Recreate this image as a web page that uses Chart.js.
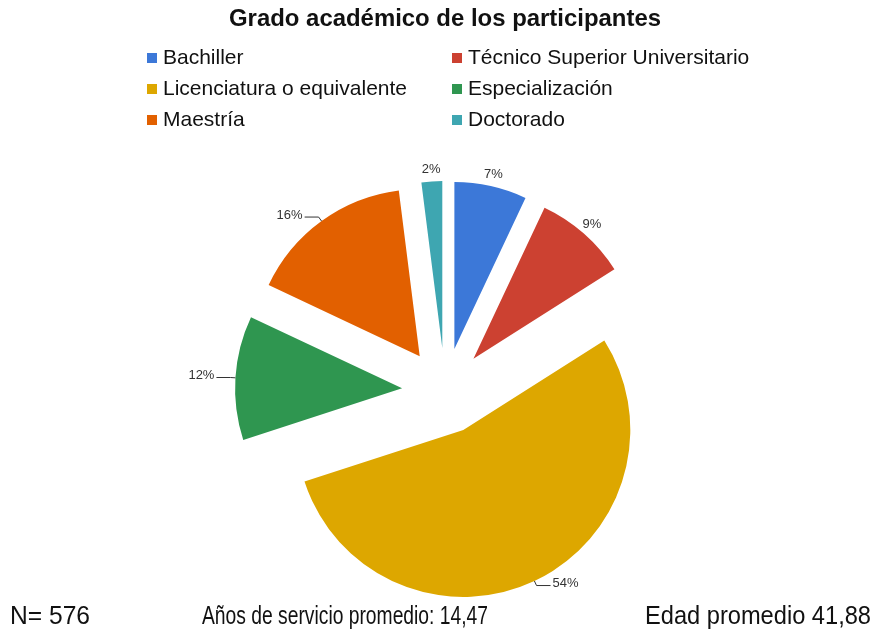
<!DOCTYPE html>
<html>
<head>
<meta charset="utf-8">
<script src="https://cdn.jsdelivr.net/npm/chart.js@4.4.1/dist/chart.umd.min.js"></script>
<style>
  html, body { margin: 0; padding: 0; background: #fff; }
</style>
</head>
<body>
<canvas id="pieGrado" width="878" height="631"></canvas>
<script>
const titulo = "Grado académico de los participantes";
const categorias = ["Bachiller", "Técnico Superior Universitario", "Licenciatura o equivalente",
                    "Especialización", "Maestría", "Doctorado"];
const porcentajes = [7, 9, 54, 12, 16, 2];
const colores = ["#3C78D8", "#CC4131", "#DDA700", "#2F9650", "#E26000", "#3EA6B1"];
const notasPie = ["N= 576", "Años de servicio promedio: 14,47", "Edad promedio 41,88"];

const SEPARACION = 43;
const FUENTE = "'Liberation Sans', Arial, sans-serif";

// separa cada porción del centro (pie "explotado")
const explotar = {
  id: "explotar",
  afterDatasetUpdate(chart, args) {
    const a = chart.chartArea;
    const cx = (a.left + a.right) / 2, cy = (a.top + a.bottom) / 2;
    args.meta.data.forEach(arc => {
      const mid = (arc.startAngle + arc.endAngle) / 2;
      arc.x = cx + Math.cos(mid) * SEPARACION;
      arc.y = cy + Math.sin(mid) * SEPARACION;
    });
  }
};

// título, leyenda en dos columnas, etiquetas y notas al pie
const textos = {
  id: "textos",
  afterDraw(chart) {
    const ctx = chart.ctx;
    ctx.save();
    ctx.fillStyle = "#111";
    ctx.textBaseline = "middle";

    ctx.font = "bold 24px " + FUENTE;
    ctx.textAlign = "center";
    ctx.fillText(titulo, 445, 19, 432);

    ctx.font = "21px " + FUENTE;
    ctx.textAlign = "left";
    categorias.forEach((c, i) => {
      const col = i % 2, fila = Math.floor(i / 2);
      const x = col === 0 ? 147 : 452;
      const y = 58 + fila * 31;
      ctx.fillStyle = colores[i];
      ctx.fillRect(x, y - 5, 10, 10);
      ctx.fillStyle = "#111";
      ctx.fillText(c, x + 16, y);
    });

    // etiquetas de porcentaje
    const meta = chart.getDatasetMeta(0);
    ctx.font = "13px " + FUENTE;
    ctx.fillStyle = "#333";
    ctx.strokeStyle = "#333";
    ctx.lineWidth = 1;
    meta.data.forEach((arc, i) => {
      const mid = (arc.startAngle + arc.endAngle) / 2;
      const dx = Math.cos(mid), dy = Math.sin(mid);
      const px = arc.x + dx * arc.outerRadius, py = arc.y + dy * arc.outerRadius;
      const txt = porcentajes[i] + "%";
      if (porcentajes[i] >= 10) {
        const ex = px + dx * 5, ey = py + dy * 5;
        const dir = dx >= 0 ? 1 : -1;
        const hx = ex + dir * 14;
        ctx.beginPath();
        ctx.moveTo(px, py);
        ctx.lineTo(ex, ey);
        ctx.lineTo(hx, ey);
        ctx.stroke();
        ctx.textAlign = dir > 0 ? "left" : "right";
        ctx.fillText(txt, hx + dir * 2, ey - 2);
      } else {
        ctx.textAlign = "center";
        ctx.fillText(txt, px + dx * 12, py + dy * 12);
      }
    });

    ctx.fillStyle = "#111";
    ctx.font = "26px " + FUENTE;
    ctx.textAlign = "left";
    ctx.fillText(notasPie[0], 10, 617, 80);
    ctx.fillText(notasPie[1], 202, 617, 286);
    ctx.fillText(notasPie[2], 645, 617, 226);
    ctx.restore();
  }
};

new Chart(document.getElementById("pieGrado"), {
  type: "pie",
  data: {
    labels: categorias,
    datasets: [{
      data: porcentajes,
      backgroundColor: colores,
      borderWidth: 0
    }]
  },
  options: {
    responsive: false,
    animation: false,
    events: [],
    radius: 167,
    layout: { padding: { top: 160, bottom: 9, left: 12, right: 0 } },
    plugins: {
      legend: { display: false },
      title: { display: false },
      tooltip: { enabled: false }
    }
  },
  plugins: [explotar, textos]
});
</script>
</body>
</html>
